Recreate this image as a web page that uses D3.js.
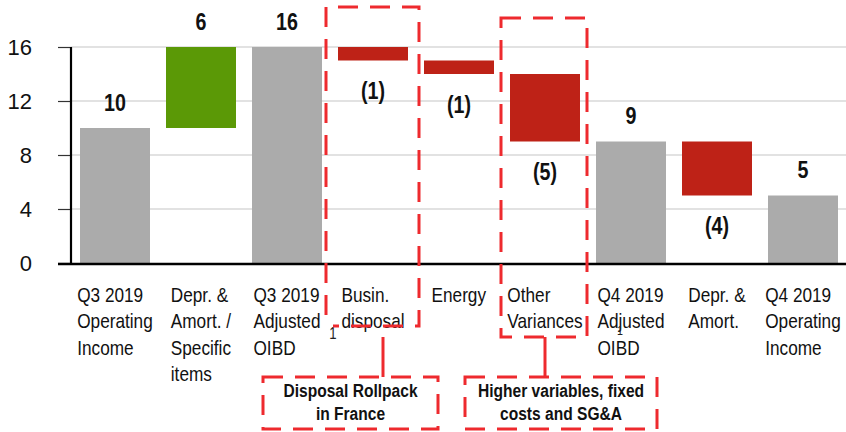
<!DOCTYPE html>
<html>
<head>
<meta charset="utf-8">
<script src="https://cdn.jsdelivr.net/npm/d3@7"></script>
<style>
  html, body { margin: 0; padding: 0; background: #fff; }
  svg { display: block; font-family: "Liberation Sans", Arial, sans-serif; }
</style>
</head>
<body>
<svg id="chart" width="846" height="432"></svg>
<script>
// ---------- DATA ----------
const categories = [
  "Q3 2019\nOperating\nIncome",
  "Depr. &\nAmort. /\nSpecific\nitems",
  "Q3 2019\nAdjusted\nOIBD",
  "Busin.\ndisposal",
  "Energy",
  "Other\nVariances",
  "Q4 2019\nAdjusted\nOIBD",
  "Depr. &\nAmort.",
  "Q4 2019\nOperating\nIncome"
];
const barStart = [0, 10, 0, 16, 15, 14, 0, 9, 0];
const barEnd   = [10, 16, 16, 15, 14, 9, 9, 5, 5];
const barType  = ["total", "up", "total", "down", "down", "down", "total", "down", "total"];
const valueLabels = ["10", "6", "16", "(1)", "(1)", "(5)", "9", "(4)", "5"];
const yTicks = [0, 4, 8, 12, 16];
const highlighted = [3, 5];
const notes = ["Disposal Rollpack\nin France", "Higher variables, fixed\ncosts and SG&A"];

// ---------- LAYOUT ----------
const svg = d3.select("#chart");
const colors = { total: "#ABABAB", up: "#5B9906", down: "#BE2217" };
const red = "#EE2A2E";
const SX = 0.82; // horizontal condensing (narrow face)

const x = d3.scaleBand()
  .domain(d3.range(categories.length))
  .range([72, 846])
  .paddingInner(16 / 86)
  .paddingOuter(8 / 86);
const y = d3.scaleLinear().domain([0, 16]).range([263, 47]);

function narrowText(parent, cx, size, weight, anchor) {
  const g = parent.append("g").attr("transform", `translate(${cx},0) scale(${SX},1)`);
  return g.append("text").attr("x", 0)
    .attr("text-anchor", anchor || "middle")
    .style("font-size", size + "px").style("font-weight", weight || "normal")
    .attr("fill", "#111");
}

// gridlines
svg.append("g").selectAll("line").data(yTicks.filter(d => d > 0)).join("line")
  .attr("x1", 71).attr("x2", 846)
  .attr("y1", d => y(d)).attr("y2", d => y(d))
  .attr("stroke", "#D9D9D9").attr("stroke-width", 1.5);

// y axis
const yAxis = d3.axisLeft(y).tickValues(yTicks).tickSize(13).tickPadding(26).tickFormat(d3.format("d"));
const gy = svg.append("g").attr("transform", "translate(71,0)").call(yAxis);
gy.select(".domain").remove();
gy.attr("font-family", null).attr("font-size", null);
gy.selectAll(".tick line").attr("stroke", "#333").attr("stroke-width", 1.2);
gy.selectAll(".tick text")
  .style("font-family", "'Liberation Sans', Arial, sans-serif")
  .style("font-size", "22px").attr("fill", "#111").attr("dy", "0.36em");
svg.append("line").attr("x1", 71).attr("x2", 71).attr("y1", 47).attr("y2", 264)
  .attr("stroke", "#000").attr("stroke-width", 2.2);

// bars
svg.append("g").selectAll("rect").data(categories.map((c, i) => i)).join("rect")
  .attr("x", i => x(i))
  .attr("width", x.bandwidth())
  .attr("y", i => y(Math.max(barStart[i], barEnd[i])))
  .attr("height", i => Math.abs(y(barStart[i]) - y(barEnd[i])))
  .attr("fill", i => colors[barType[i]]);

// x baseline
svg.append("line").attr("x1", 58).attr("x2", 846).attr("y1", 264).attr("y2", 264)
  .attr("stroke", "#000").attr("stroke-width", 2.5);

// value labels
const valG = svg.append("g");
categories.forEach((c, i) => {
  const yy = barType[i] === "down"
    ? y(Math.min(barStart[i], barEnd[i])) + 39
    : y(Math.max(barStart[i], barEnd[i])) - 17;
  narrowText(valG, x(i) + x.bandwidth() / 2, 24, "bold").attr("y", yy).text(valueLabels[i]);
});

// category labels (left-aligned block centred on the bar)
const catG = svg.append("g");
categories.forEach((c, i) => {
  const g = catG.append("g");
  const t = g.append("text").style("font-size", "21px").attr("fill", "#111");
  c.split("\n").forEach((line, k) => {
    t.append("tspan").attr("x", 0).attr("y", 302 + k * 26.5).text(line);
  });
  const w = t.node().getBBox().width * SX;
  g.attr("transform", `translate(${x(i) + x.bandwidth() / 2 - w / 2},0) scale(${SX},1)`);
});

// small "1" markers
narrowText(svg, 333, 16, "normal").attr("y", 339).attr("fill", "#222").text("1");
narrowText(svg, 620, 13, "normal").attr("y", 335).attr("fill", "#222").text("1");

// dashed highlight boxes
const dash = "20 12";
const hl = svg.append("g").attr("fill", "none").attr("stroke", red)
  .attr("stroke-width", 3).attr("stroke-dasharray", dash);
{
  const i = highlighted[0];
  const x0 = x(i) - 12, x1 = x(i) + x.bandwidth() + 11;
  hl.append("path").attr("d", `M${x0},315 V7 H${x1} V326 H${x0 + 7}`);
}
{
  const i = highlighted[1];
  const x0 = x(i) - 9, x1 = x(i) + x.bandwidth() + 7;
  hl.append("rect").attr("x", x0).attr("y", 18).attr("width", x1 - x0).attr("height", 337 - 18);
}

// connectors
[383, 545].forEach(cx => {
  svg.append("line").attr("x1", cx).attr("x2", cx).attr("y1", 337).attr("y2", 377)
    .attr("stroke", red).attr("stroke-width", 3);
});

// note boxes
const nb = [
  { x0: 263, x1: 438 },
  { x0: 465, x1: 657 }
];
nb.forEach((b, k) => {
  svg.append("rect").attr("x", b.x0).attr("y", 377).attr("width", b.x1 - b.x0).attr("height", 52)
    .attr("fill", "none").attr("stroke", red).attr("stroke-width", 3).attr("stroke-dasharray", dash);
  const t = narrowText(svg, (b.x0 + b.x1) / 2, 19, "bold");
  notes[k].split("\n").forEach((line, j) => {
    t.append("tspan").attr("x", 0).attr("y", 397 + j * 23).text(line);
  });
});
</script>
</body>
</html>
